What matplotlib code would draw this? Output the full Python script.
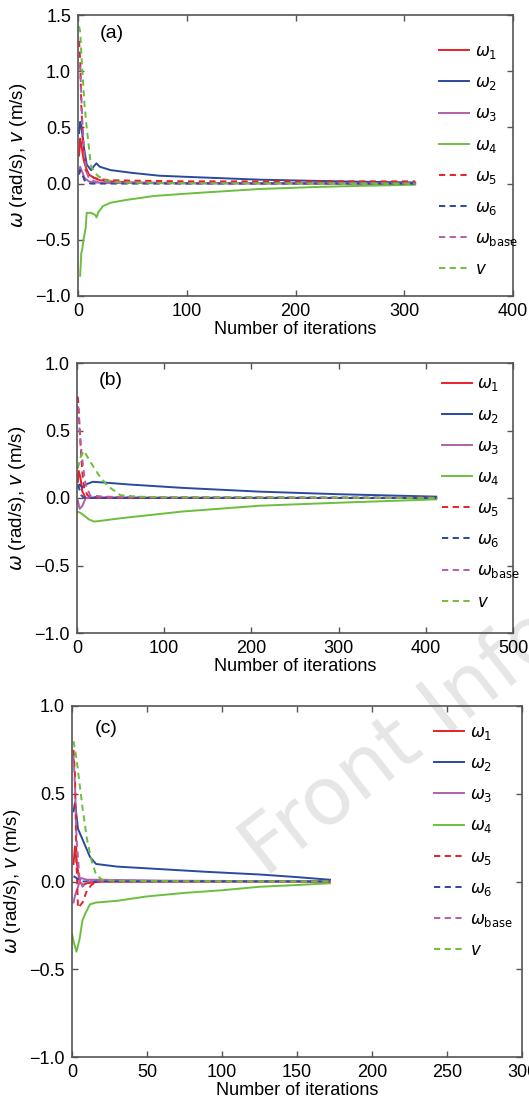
import matplotlib
matplotlib.use("Agg")
import matplotlib.pyplot as plt

# ---------------- data ----------------
# Panel (a)
a_w1_x = [1, 2, 3, 5, 7, 10, 15, 20, 30, 50, 100, 200, 310]
a_w1_y = [0.25, 0.40, 0.35, 0.22, 0.15, 0.08, 0.05, 0.03, 0.02, 0.01, 0.005, 0.003, 0.002]
a_w2_x = [1, 2, 3, 5, 8, 12, 15, 17, 20, 30, 50, 75, 100, 167, 200, 250, 310]
a_w2_y = [0.45, 0.55, 0.52, 0.35, 0.17, 0.12, 0.16, 0.18, 0.15, 0.12, 0.095, 0.07, 0.06, 0.035, 0.028, 0.018, 0.01]
a_w3_x = [1, 2, 4, 6, 10, 15, 30, 100, 310]
a_w3_y = [0.10, 0.15, 0.10, 0.05, 0.02, 0.01, 0.005, 0.002, 0.0]
a_w4_x = [2, 3, 4, 5, 7, 8, 12, 16, 17, 19, 23, 30, 44, 70, 105, 167, 220, 260, 310]
a_w4_y = [-0.82, -0.62, -0.58, -0.50, -0.40, -0.26, -0.26, -0.28, -0.30, -0.25, -0.20, -0.17, -0.146, -0.11, -0.086, -0.048, -0.03, -0.02, -0.01]
a_w5_x = [1, 2, 3, 5, 7, 10, 15, 20, 30, 60, 100, 200, 310]
a_w5_y = [1.27, 1.10, 0.70, 0.30, 0.12, 0.08, 0.05, 0.04, 0.03, 0.025, 0.02, 0.02, 0.02]
a_w6_x = [1, 2, 4, 6, 8, 12, 20, 50, 310]
a_w6_y = [0.08, 0.12, 0.08, 0.03, 0.01, 0.0, 0.0, 0.0, 0.0]
a_wb_x = [1, 2, 3, 4, 6, 8, 10, 15, 30, 100, 310]
a_wb_y = [1.05, 1.04, 0.80, 0.55, 0.25, 0.10, 0.05, 0.02, 0.01, 0.005, 0.003]
a_v_x = [1, 2, 4, 6, 8, 12, 18, 25, 40, 100, 310]
a_v_y = [1.40, 1.35, 1.00, 0.70, 0.50, 0.15, 0.07, 0.03, 0.01, 0.003, 0.0]

# Panel (b)
b_w1_x = [1, 2, 4, 6, 10, 20, 50, 100, 200, 412]
b_w1_y = [0.12, 0.20, 0.15, 0.05, 0.0, 0.0, 0.0, 0.0, 0.0, 0.0]
b_w2_x = [1, 3, 6, 10, 18, 30, 60, 121, 210, 300, 412]
b_w2_y = [0.08, 0.10, 0.08, 0.10, 0.12, 0.115, 0.10, 0.075, 0.047, 0.028, 0.01]
b_w3_x = [1, 3, 6, 10, 15, 30, 100, 412]
b_w3_y = [-0.02, -0.08, -0.06, 0.0, 0.005, 0.005, 0.003, 0.0]
b_w4_x = [0, 4, 8, 14, 20, 50, 121, 210, 300, 412]
b_w4_y = [-0.10, -0.11, -0.13, -0.16, -0.175, -0.15, -0.10, -0.057, -0.035, -0.01]
b_w5_x = [1, 2, 4, 6, 8, 12, 15, 30, 100, 412]
b_w5_y = [0.75, 0.65, 0.40, 0.20, 0.08, 0.02, 0.01, 0.005, 0.003, 0.002]
b_w6_x = [1, 3, 5, 8, 20, 100, 412]
b_w6_y = [0.10, 0.06, 0.02, 0.0, 0.0, 0.0, 0.0]
b_wb_x = [1, 3, 5, 8, 10, 15, 30, 100, 412]
b_wb_y = [0.68, 0.50, 0.35, 0.18, 0.10, 0.02, 0.01, 0.005, 0.003]
b_v_x = [1, 4, 8, 15, 25, 35, 50, 70, 100, 412]
b_v_y = [0.22, 0.30, 0.35, 0.27, 0.17, 0.09, 0.02, 0.01, 0.005, 0.0]

# Panel (c)
c_w1_x = [1, 2, 3, 5, 7, 10, 20, 60, 172]
c_w1_y = [0.10, 0.20, 0.12, 0.0, -0.02, -0.01, 0.0, 0.0, 0.0]
c_w2_x = [1, 2, 4, 8, 12, 16, 30, 60, 90, 125, 150, 172]
c_w2_y = [0.40, 0.45, 0.30, 0.22, 0.14, 0.10, 0.085, 0.07, 0.055, 0.04, 0.025, 0.01]
c_w3_x = [1, 2, 4, 6, 10, 20, 60, 172]
c_w3_y = [-0.12, -0.08, -0.03, 0.02, 0.01, 0.01, 0.005, 0.0]
c_w4_x = [0, 1, 3, 5, 7, 9, 12, 16, 30, 50, 75, 100, 125, 150, 172]
c_w4_y = [-0.30, -0.34, -0.40, -0.33, -0.22, -0.18, -0.13, -0.12, -0.11, -0.085, -0.065, -0.05, -0.03, -0.02, -0.01]
c_w5_x = [1, 2, 3, 4, 5, 7, 10, 13, 16, 30, 60, 172]
c_w5_y = [0.75, 0.60, 0.10, -0.15, -0.14, -0.12, -0.05, -0.02, 0.0, 0.0, 0.0, 0.0]
c_w6_x = [1, 3, 6, 10, 30, 172]
c_w6_y = [0.03, 0.02, 0.0, 0.0, 0.0, 0.0]
c_wb_x = [1, 2, 3, 5, 7, 10, 20, 60, 172]
c_wb_y = [0.72, 0.55, 0.25, 0.02, -0.03, 0.0, 0.005, 0.003, 0.0]
c_v_x = [1, 3, 5, 7, 10, 13, 16, 20, 30, 60, 172]
c_v_y = [0.80, 0.70, 0.56, 0.42, 0.24, 0.12, 0.04, 0.01, 0.005, 0.002, 0.0]

labels = [r"$\omega_1$", r"$\omega_2$", r"$\omega_3$", r"$\omega_4$",
          r"$\omega_5$", r"$\omega_6$", r"$\omega_{\rm base}$", r"$v$"]
colors = ["#e8202a", "#2a4aa0", "#b060ab", "#6cbf3c",
          "#e8202a", "#2a4aa0", "#b060ab", "#6cbf3c"]
styles = ["-", "-", "-", "-", "--", "--", "--", "--"]

panels = [
    dict(tag="(a)", xlim=(0, 400), ylim=(-1.0, 1.5), xticks=[0, 100, 200, 300, 400],
         yticks=[-1.0, -0.5, 0.0, 0.5, 1.0, 1.5],
         rect=[78, 15, 513, 296], leg=(0.814, 0.92),
         series=[(a_w1_x, a_w1_y), (a_w2_x, a_w2_y), (a_w3_x, a_w3_y), (a_w4_x, a_w4_y),
                 (a_w5_x, a_w5_y), (a_w6_x, a_w6_y), (a_wb_x, a_wb_y), (a_v_x, a_v_y)]),
    dict(tag="(b)", xlim=(0, 500), ylim=(-1.0, 1.0), xticks=[0, 100, 200, 300, 400, 500],
         yticks=[-1.0, -0.5, 0.0, 0.5, 1.0],
         rect=[77, 363, 513, 633], leg=(0.821, 0.975),
         series=[(b_w1_x, b_w1_y), (b_w2_x, b_w2_y), (b_w3_x, b_w3_y), (b_w4_x, b_w4_y),
                 (b_w5_x, b_w5_y), (b_w6_x, b_w6_y), (b_wb_x, b_wb_y), (b_v_x, b_v_y)]),
    dict(tag="(c)", xlim=(0, 300), ylim=(-1.0, 1.0), xticks=[0, 50, 100, 150, 200, 250, 300],
         yticks=[-1.0, -0.5, 0.0, 0.5, 1.0],
         rect=[72, 706, 522, 1057], leg=(0.789, 0.965),
         series=[(c_w1_x, c_w1_y), (c_w2_x, c_w2_y), (c_w3_x, c_w3_y), (c_w4_x, c_w4_y),
                 (c_w5_x, c_w5_y), (c_w6_x, c_w6_y), (c_wb_x, c_wb_y), (c_v_x, c_v_y)]),
]

W, H = 529, 1106
fig = plt.figure(figsize=(W / 100, H / 100), dpi=100)
plt.rcParams["font.family"] = ["Liberation Sans", "DejaVu Sans"]
plt.rcParams["mathtext.fontset"] = "dejavusans"

# faint watermark, drawn below the (transparent) axes
fig.text(265 / W, 1 - 878 / H, "Front Info", rotation=38, fontsize=58,
         color="#e6e6e6", ha="left", va="baseline",
         rotation_mode="anchor", zorder=-1, family="DejaVu Sans")

spine_col = "#555555"
for p in panels:
    l, t, r, b = p["rect"]
    ax = fig.add_axes([l / W, 1 - b / H, (r - l) / W, (b - t) / H])
    ax.patch.set_visible(False)
    for (xs, ys), c, ls, lab in zip(p["series"], colors, styles, labels):
        if ls == "--":
            ax.plot(xs, ys, color=c, lw=1.4, label=lab, ls=(0, (3.2, 2.3)))
        else:
            ax.plot(xs, ys, color=c, lw=1.4, label=lab, ls="-")
    ax.set_xlim(*p["xlim"])
    ax.set_ylim(*p["ylim"])
    ax.set_xticks(p["xticks"])
    ax.set_yticks(p["yticks"])
    ax.set_yticklabels([f"{v:.1f}".replace("-", "\u2212") for v in p["yticks"]])
    ax.tick_params(direction="in", top=True, right=True, length=4.5, width=1,
                   color=spine_col, labelsize=13, pad=5)
    for s in ax.spines.values():
        s.set_color(spine_col)
        s.set_linewidth(1.2)
    ax.set_xlabel("Number of iterations", fontsize=13, labelpad=1)
    ax.set_ylabel(r"$\omega$ (rad/s), $v$ (m/s)", fontsize=13.5, labelpad=5)
    ax.text(0.05, 0.935, p["tag"], transform=ax.transAxes, fontsize=14, va="center")
    ax.legend(loc="upper left", bbox_to_anchor=p["leg"], frameon=False,
              handlelength=1.8, handletextpad=0.35, labelspacing=0.85, fontsize=12,
              borderaxespad=0)

fig.savefig("out.png", dpi=100)
